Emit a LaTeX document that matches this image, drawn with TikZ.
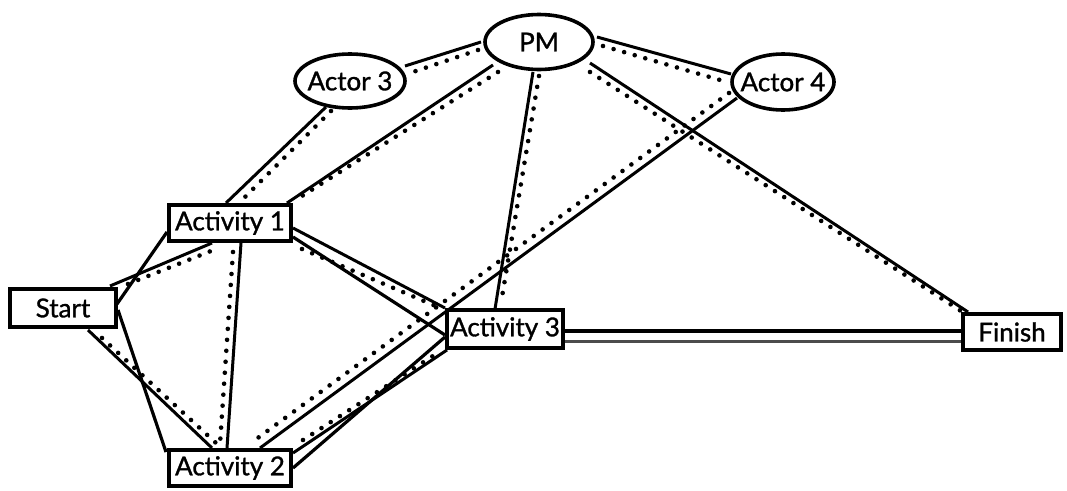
\documentclass[tikz,border=0pt]{standalone}
\usepackage{fontspec}
\newfontfamily\labelfont{Lato}[FakeBold=1.2]
\usetikzlibrary{shapes.geometric}
\tikzset{
  lbl/.style={font=\labelfont\fontsize{26}{31}\selectfont},
  stepbox/.style={lbl, draw, line width=3.6pt, fill=white, inner sep=0pt,
                  minimum width=122pt, minimum height=36pt},
  role/.style={lbl, ellipse, draw, line width=3.6pt, fill=white, inner sep=0pt},
  flow/.style={line width=3.2pt},
  link/.style={line width=3pt},
  linkdots/.style={line width=4.6pt, line cap=round, dash pattern=on 0pt off 11pt},
  shade/.style={line width=3pt, black!70},
}
\pgfdeclarelayer{edges}
\pgfsetlayers{edges,main}
\begin{document}
\begin{tikzpicture}[x=1pt, y=-1pt]
\useasboundingbox (0,0) rectangle (1067,490);

% ---- nodes (placed first so the connectors can refer to them) ----
\node[stepbox, minimum width=106pt, minimum height=38pt] (start) at (63,308) {Start};
\node[stepbox] (a1) at (230,223) {Activity 1};
\node[stepbox] (a2) at (230,468) {Activity 2};
\node[stepbox, minimum width=116pt, minimum height=38pt] (a3) at (505,329) {Activity 3};
\node[stepbox, minimum width=98pt] (finish) at (1012,332) {Finish};
\node[role, minimum width=108pt, minimum height=55pt] (pm) at (539,42) {\makebox[0pt]{PM}};
\node[role, minimum width=110pt, minimum height=54pt] (actor3) at (350,81) {\makebox[0pt]{Actor 3}};
\node[role, minimum width=102pt, minimum height=56pt] (actor4) at (783,82) {\makebox[0pt]{Actor 4}};

% ---- connectors (drawn behind the nodes) ----
\begin{pgfonlayer}{edges}
% PM -- Actor 3
\draw[link]     ([shift={(-58,0)}]pm.center)  -- ([shift={(55,-15)}]actor3.center);
\draw[linkdots] ([shift={(-61,8)}]pm.center)  -- ([shift={(60,-8)}]actor3.center);
% PM -- Actor 4
\draw[link]     ([shift={(58,-5)}]pm.center)  -- ([shift={(-52,-8)}]actor4.center);
\draw[linkdots] ([shift={(64,4)}]pm.center)   -- ([shift={(-56,0)}]actor4.center);
% Actor 3 -- Activity 1
\draw[link]     ([shift={(-24,26)}]actor3.center) -- ([shift={(-4,-20)}]a1.center);
\draw[linkdots] ([shift={(-19,30)}]actor3.center) -- ([shift={(10,-21)}]a1.center);
% PM -- Activity 1
\draw[link]     ([shift={(-46,23)}]pm.center) -- ([shift={(57,-20)}]a1.center);
\draw[linkdots] ([shift={(-41,30)}]pm.center) -- ([shift={(64,-22)}]a1.center);
% PM -- Activity 3
\draw[link]     ([shift={(-6,30)}]pm.center)  -- ([shift={(-10,-20)}]a3.center);
\draw[linkdots] ([shift={(0,34)}]pm.center)   -- ([shift={(-4,-26)}]a3.center);
% PM -- Finish
\draw[link]     ([shift={(51,21)}]pm.center)  -- ([shift={(-44,-20)}]finish.center);
\draw[linkdots] ([shift={(51,30)}]pm.center)  -- ([shift={(-51,-21)}]finish.center);
% Actor 4 -- Activity 2
\draw[link]     ([shift={(-46,16)}]actor4.center) -- ([shift={(30,-20)}]a2.center);
\draw[linkdots] ([shift={(-54,11)}]actor4.center) -- ([shift={(25,-28)}]a2.center);
% Start -- Activity 1
\draw[flow]     ([shift={(54,-4)}]start.center)  -- ([shift={(-63,9)}]a1.center);
\draw[link]     ([shift={(47,-22)}]start.center) -- ([shift={(-18,20)}]a1.center);
\draw[linkdots] ([shift={(65,-24)}]start.center) -- ([shift={(-14,26)}]a1.center);
% Start -- Activity 2
\draw[flow]     ([shift={(55,2)}]start.center)   -- ([shift={(-64,-16)}]a2.center);
\draw[link]     ([shift={(25,22)}]start.center)  -- ([shift={(-18,-20)}]a2.center);
\draw[linkdots] ([shift={(39,30)}]start.center)  -- ([shift={(-14,-25)}]a2.center);
% Activity 1 -- Activity 2
\draw[link]     ([shift={(11,20)}]a1.center) -- ([shift={(-3,-20)}]a2.center);
\draw[linkdots] ([shift={(3,29)}]a1.center)  -- ([shift={(-10,-24)}]a2.center);
% Activity 1 -- Activity 3
\draw[flow]     ([shift={(63,14)}]a1.center) -- ([shift={(-60,6)}]a3.center);
\draw[link]     ([shift={(63,5)}]a1.center)  -- ([shift={(-60,-21)}]a3.center);
\draw[linkdots] ([shift={(72,26)}]a1.center) -- ([shift={(-67,-22)}]a3.center);
% Activity 2 -- Activity 3
\draw[flow]     ([shift={(63,0)}]a2.center)   -- ([shift={(-60,8)}]a3.center);
\draw[link]     ([shift={(63,-15)}]a2.center) -- ([shift={(-58,21)}]a3.center);
\draw[linkdots] ([shift={(73,-28)}]a2.center) -- ([shift={(-69,25)}]a3.center);
% Activity 3 -- Finish
\draw[flow]     ([shift={(60,2)}]a3.center)  -- ([shift={(-50,-1)}]finish.center);
\draw[shade]    ([shift={(60,12)}]a3.center) -- ([shift={(-50,9)}]finish.center);
\end{pgfonlayer}
\end{tikzpicture}
\end{document}
